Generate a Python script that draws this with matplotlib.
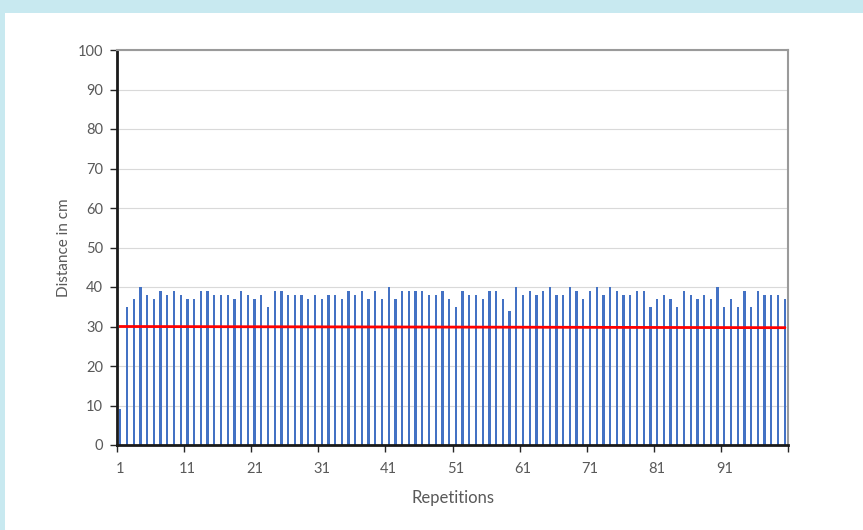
import numpy as np
import matplotlib
matplotlib.use('Agg')
import matplotlib.pyplot as plt
from matplotlib.patches import Rectangle

plt.rcParams['font.family'] = ['Lato', 'DejaVu Sans']

# distance per repetition (cm)
reps = np.arange(1, 101)
distance = [9, 35, 37, 40, 38, 37, 39, 38, 39, 38,
            37, 37, 39, 39, 38, 38, 38, 37, 39, 38,
            37, 38, 35, 39, 39, 38, 38, 38, 37, 38,
            37, 38, 38, 37, 39, 38, 39, 37, 39, 37,
            40, 37, 39, 39, 39, 39, 38, 38, 39, 37,
            35, 39, 38, 38, 37, 39, 39, 37, 34, 40,
            38, 39, 38, 39, 40, 38, 38, 40, 39, 37,
            39, 40, 38, 40, 39, 38, 38, 39, 39, 35,
            37, 38, 37, 35, 39, 38, 37, 38, 37, 40,
            35, 37, 35, 39, 35, 39, 38, 38, 38, 37]
# red reference line (start / end)
ref_x = [1, 100]
ref_y = [30.0, 29.7]

x_labels = ['1', '11', '21', '31', '41', '51', '61', '71', '81', '91']

grey = '#595959'

fig = plt.figure(figsize=(8.63, 5.30), dpi=100, facecolor='white')
# light blue border strips (top and left)
fig.patches.append(Rectangle((0, 1 - 13 / 530), 1, 13 / 530, transform=fig.transFigure,
                             facecolor='#C8E9F0', edgecolor='none', zorder=-10))
fig.patches.append(Rectangle((0, 0), 5 / 863, 1, transform=fig.transFigure,
                             facecolor='#C8E9F0', edgecolor='none', zorder=-10))
ax = fig.add_axes([117 / 863, 1 - 445 / 530, (788 - 117) / 863, (445 - 50) / 530])

ax.bar(reps, distance, width=0.34, color='#4472C4', zorder=2)
ax.plot(ref_x, ref_y, color='#FF0000', lw=2, zorder=3)

ax.set_xlim(0.5, 100.5)
ax.set_ylim(0, 100)
ax.set_yticks(np.arange(0, 101, 10))
ax.yaxis.grid(True, color='#D9D9D9', lw=0.8, zorder=0)
ax.set_axisbelow(True)

# ticks at category boundaries, labels at category centres
ax.set_xticks(np.arange(0.5, 101, 10))
ax.set_xticklabels([''] * 11)
ax.set_xticks([int(s) for s in x_labels], minor=True)
ax.set_xticklabels(x_labels, minor=True)
ax.tick_params(axis='x', which='major', length=5, width=1, color='#262626', direction='out')
ax.tick_params(axis='x', which='minor', length=0, labelsize=10.5, labelcolor=grey, pad=12)
ax.tick_params(axis='y', length=5, width=1, color='#262626', labelsize=10.5, labelcolor=grey, pad=5)

for s in ['left', 'bottom']:
    ax.spines[s].set_color('#1a1a1a')
    ax.spines[s].set_linewidth(2)
for s in ['top', 'right']:
    ax.spines[s].set_color('#9a9a9a')
    ax.spines[s].set_linewidth(1.5)

ax.set_xlabel('Repetitions', fontsize=12, color=grey, labelpad=10)
ax.set_ylabel('Distance in cm', fontsize=11, color=grey, labelpad=5)

fig.savefig('out.png', dpi=100, facecolor=fig.get_facecolor())
